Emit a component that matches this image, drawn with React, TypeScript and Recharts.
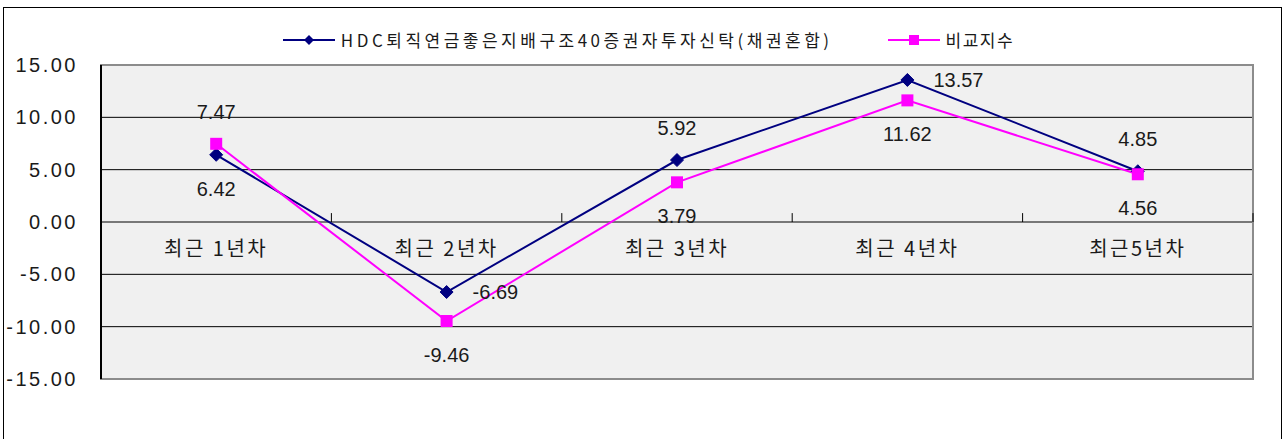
import React from 'react';
import {
  LineChart,
  Line,
  XAxis,
  YAxis,
  CartesianGrid,
  Legend,
  LabelList,
  ReferenceArea,
  ReferenceLine,
  ReferenceDot,
} from 'recharts';

const categories = ['최근 1년차', '최근 2년차', '최근 3년차', '최근 4년차', '최근5년차'];
const fundValues = [6.42, -6.69, 5.92, 13.57, 4.85];
const benchValues = [7.47, -9.46, 3.79, 11.62, 4.56];
const yTicks = [-15, -10, -5, 0, 5, 10, 15];
const fundName = 'HDC퇴직연금좋은지배구조40증권자투자신탁(채권혼합)';
const benchName = '비교지수';

// where each data label sits relative to its point
const fundLabelSide = ['below', 'right', 'above', 'right', 'above'];
const benchLabelSide = ['above', 'below', 'below', 'below', 'below'];

const data = categories.map((category, i) => ({
  pos: i + 1,
  category,
  fund: fundValues[i],
  bench: benchValues[i],
}));

const boundaries = categories.map((_, i) => i + 1.5);

const NAVY = '#000080';
const PINK = '#ff00ff';
const numFont = "'Liberation Sans', Arial, sans-serif";
const krFont = "'Noto Sans CJK KR', 'Liberation Sans', sans-serif";

const Diamond = (props: any) => {
  const { cx, cy } = props;
  if (cx == null || cy == null) return null;
  const s = 6.5;
  return (
    <polygon
      points={`${cx},${cy - s} ${cx + s},${cy} ${cx},${cy + s} ${cx - s},${cy}`}
      fill={NAVY}
      stroke={NAVY}
    />
  );
};

const Square = (props: any) => {
  const { cx, cy } = props;
  if (cx == null || cy == null) return null;
  return <rect x={cx - 6} y={cy - 6} width={12} height={12} fill={PINK} />;
};

const makeLabel = (sides: string[]) => (props: any) => {
  const { x, y, value, index } = props;
  const side = sides[index];
  let tx = x;
  let ty = y;
  let anchor: 'middle' | 'start' = 'middle';
  if (side === 'above') ty = y - 32;
  if (side === 'below') ty = y + 34;
  if (side === 'right') {
    tx = x + 26;
    anchor = 'start';
  }
  return (
    <text
      x={tx}
      y={ty}
      textAnchor={anchor}
      dominantBaseline="central"
      fontFamily={numFont}
      fontSize={20}
      fill="#1a1a1a"
    >
      {Number(value).toFixed(2)}
    </text>
  );
};

const renderLegend = () => {
  const items = [
    { name: fundName, color: NAVY, marker: 'diamond', spacing: 3.5 },
    { name: benchName, color: PINK, marker: 'square', spacing: 1.5 },
  ];
  return (
    <div
      style={{
        height: 37,
        display: 'flex',
        justifyContent: 'center',
        alignItems: 'flex-start',
        paddingLeft: 44,
      }}
    >
      {items.map((item, i) => (
        <div
          key={item.name}
          style={{ display: 'flex', alignItems: 'center', height: 24, marginRight: i === 0 ? 55 : 0 }}
        >
          <svg width={52} height={24}>
            <line x1={0} y1={12} x2={52} y2={12} stroke={item.color} strokeWidth={2} />
            {item.marker === 'diamond' ? (
              <polygon points="26,7 31,12 26,17 21,12" fill={item.color} />
            ) : (
              <rect x={21} y={7} width={10} height={10} fill={item.color} />
            )}
          </svg>
          <span
            style={{
              marginLeft: 6,
              fontFamily: krFont,
              fontSize: 17,
              letterSpacing: item.spacing,
              color: '#1a1a1a',
              lineHeight: '24px',
              whiteSpace: 'nowrap',
            }}
          >
            {item.name}
          </span>
        </div>
      ))}
    </div>
  );
};

const App: React.FC = () => {
  return (
    <div style={{ position: 'absolute', left: 0, top: 0, width: 1284, height: 439, background: '#fff', overflow: 'hidden' }}>
      <div
        style={{
          position: 'absolute',
          left: 3,
          top: 7,
          width: 1279,
          height: 460,
          border: '1px solid #000',
          boxSizing: 'border-box',
        }}
      />
      <div style={{ position: 'absolute', left: 0, top: 0 }}>
        <LineChart width={1284} height={439} data={data} margin={{ top: 28, right: 31, bottom: 60, left: 0 }}>
          <CartesianGrid horizontal vertical={false} stroke="#000" fill="#f0f0f0" fillOpacity={1} />
          <XAxis type="number" dataKey="pos" domain={[0.5, 5.5]} hide />
          <YAxis
            domain={[-15, 15]}
            ticks={yTicks}
            width={101}
            interval={0}
            tickLine={false}
            tickSize={0}
            tickMargin={23}
            axisLine={{ stroke: '#000', strokeWidth: 2 }}
            tickFormatter={(v) => Number(v).toFixed(2)}
            tick={{ fontFamily: numFont, fontSize: 20, fill: '#1a1a1a', letterSpacing: 2.5 }}
          />
          <ReferenceArea
            x1={0.5}
            x2={5.5}
            y1={-15}
            y2={15}
            fill="none"
            fillOpacity={0}
            stroke="#8c8c8c"
            strokeWidth={2}
          />
          {boundaries.map((b) => (
            <ReferenceLine
              key={b}
              segment={[
                { x: b, y: 0 },
                { x: b, y: 0.85 },
              ]}
              stroke="#000"
              strokeWidth={1}
            />
          ))}
          {data.map((d) => (
            <ReferenceDot
              key={d.category}
              x={d.pos}
              y={0}
              r={0}
              fill="none"
              stroke="none"
              label={{
                value: d.category,
                position: 'bottom',
                offset: 20,
                fontFamily: krFont,
                fontSize: 20,
                letterSpacing: 2.5,
                fill: '#1a1a1a',
              }}
            />
          ))}
          <Legend verticalAlign="top" content={renderLegend} />
          <Line
            type="linear"
            dataKey="fund"
            name={fundName}
            stroke={NAVY}
            strokeWidth={2}
            dot={<Diamond />}
            activeDot={false}
            isAnimationActive={false}
          >
            <LabelList dataKey="fund" content={makeLabel(fundLabelSide)} />
          </Line>
          <Line
            type="linear"
            dataKey="bench"
            name={benchName}
            stroke={PINK}
            strokeWidth={2}
            dot={<Square />}
            activeDot={false}
            isAnimationActive={false}
          >
            <LabelList dataKey="bench" content={makeLabel(benchLabelSide)} />
          </Line>
        </LineChart>
      </div>
    </div>
  );
};

export default App;
